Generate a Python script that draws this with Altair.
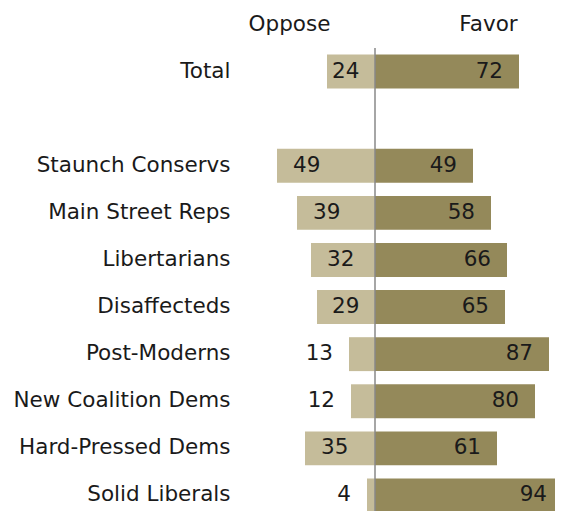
import altair as alt
import pandas as pd

groups = ["Total", "Staunch Conservs", "Main Street Reps", "Libertarians", "Disaffecteds",
          "Post-Moderns", "New Coalition Dems", "Hard-Pressed Dems", "Solid Liberals"]
oppose = [24, 49, 39, 32, 29, 13, 12, 35, 4]
favor = [72, 49, 58, 66, 65, 87, 80, 61, 94]
row_order = ["Total", " ", "Staunch Conservs", "Main Street Reps", "Libertarians", "Disaffecteds",
             "Post-Moderns", "New Coalition Dems", "Hard-Pressed Dems", "Solid Liberals"]
headers = ["Oppose", "Favor"]

OPP = "#C5BC9A"
FAV = "#94895A"
TXT = "#1a1a1a"
FONT = "DejaVu Sans"
FS = 21.5

df = pd.DataFrame({"group": groups, "oppose": oppose, "favor": favor})

yenc = alt.Y(
    "group:N",
    scale=alt.Scale(domain=row_order, range=[0, 471], paddingInner=0.28, paddingOuter=0.14),
    axis=alt.Axis(title=None, domain=False, ticks=False, grid=False, labelPadding=25,
                  labelFontSize=FS, labelFont=FONT, labelColor=TXT, labelLimit=0),
)

xscale = alt.Scale(domain=[-60, 90], nice=False, zero=False)
xaxis = alt.Axis(orient="top", values=[-43, 56.5],
                 labelExpr="datum.value < 0 ? '%s' : '%s'" % (headers[0], headers[1]),
                 domain=False, ticks=False, tickSize=0, grid=False, labelFlush=False,
                 labelPadding=18, labelBaseline="alphabetic", labelFontSize=FS,
                 labelFont=FONT, labelColor=TXT, labelLimit=0, title=None)

base = alt.Chart(df)

opp_bar = base.transform_calculate(neg="-datum.oppose").mark_bar(color=OPP).encode(
    x=alt.X("neg:Q", scale=xscale, axis=xaxis, title=None),
    x2=alt.datum(0),
    y=yenc,
)
fav_bar = base.mark_bar(color=FAV).encode(
    x=alt.X("favor:Q", title=None),
    x2=alt.datum(0),
    y=yenc,
)
rule = alt.Chart(pd.DataFrame({"zero": [0]})).mark_rule(color="#888888", strokeWidth=1.5).encode(
    x=alt.X("zero:Q", title=None)
)
opp_in = base.transform_filter("datum.oppose >= 20").transform_calculate(
    pos="min(-datum.oppose + 8, -21.5)"
).mark_text(align="left", baseline="middle", font=FONT, fontSize=FS, color=TXT).encode(
    x=alt.X("pos:Q", title=None), y=yenc, text="oppose:Q"
)
opp_out = base.transform_filter("datum.oppose < 20").transform_calculate(
    pos="-datum.oppose"
).mark_text(align="right", baseline="middle", dx=-16, font=FONT, fontSize=FS, color=TXT).encode(
    x=alt.X("pos:Q", title=None), y=yenc, text="oppose:Q"
)
fav_txt = base.mark_text(align="right", baseline="middle", dx=-16, font=FONT, fontSize=FS,
                         color=TXT).encode(
    x=alt.X("favor:Q", title=None), y=yenc, text="favor:Q"
)

chart = alt.layer(opp_bar, fav_bar, rule, opp_in, opp_out, fav_txt).properties(
    width=300, height=463, autosize="none",
    padding={"left": 247, "top": 40, "right": 0, "bottom": 0},
    background="white",
).configure_view(stroke=None)

chart.save("out.html", embed_options={"renderer": "svg", "actions": False})
